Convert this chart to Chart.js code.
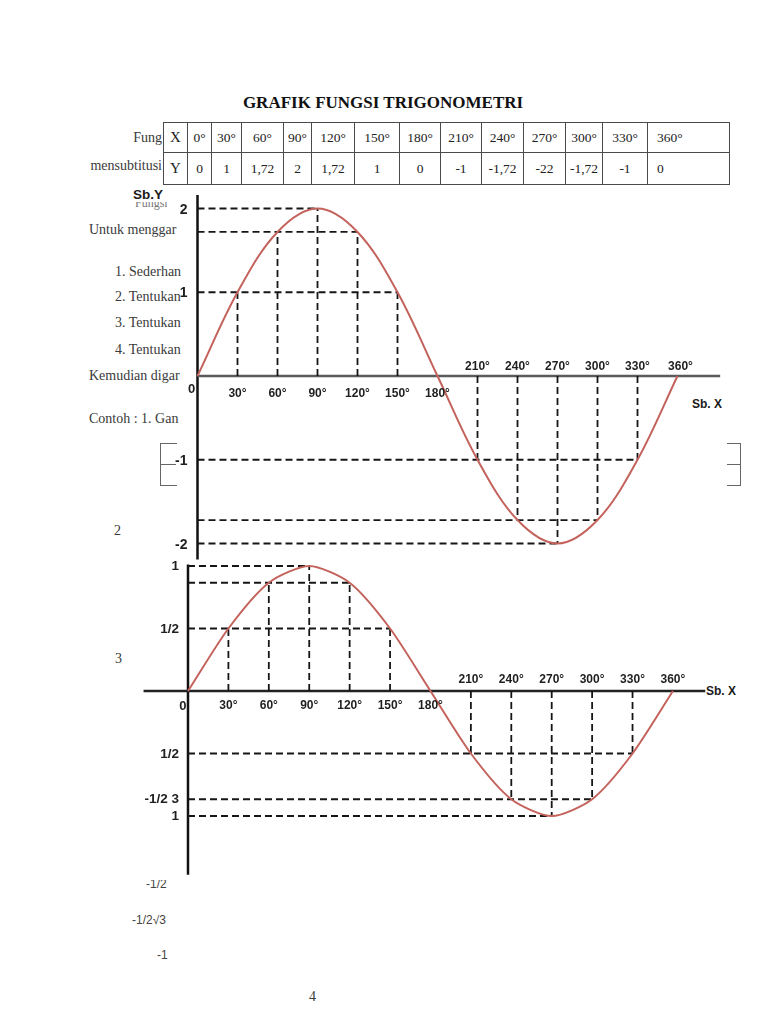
<!DOCTYPE html>
<html><head><meta charset="utf-8">
<script src="https://cdn.jsdelivr.net/npm/chart.js@4.4.1/dist/chart.umd.min.js"></script>
<style>
html,body{margin:0;padding:0;background:#fff;}
body{width:768px;height:1024px;position:relative;overflow:hidden;font-family:"Liberation Serif","Times New Roman",serif;color:#333;}
.t{position:absolute;white-space:nowrap;line-height:1;font-family:"Liberation Serif",serif;font-size:14px;color:#3a3a3a;transform:translateY(-50%);}
.s{position:absolute;white-space:nowrap;line-height:1;font-family:"Liberation Sans",Arial,sans-serif;font-size:12px;color:#444;transform:translateY(-50%);}
.b{position:absolute;white-space:nowrap;line-height:1;font-family:"Liberation Sans",Arial,sans-serif;font-weight:bold;font-size:13px;color:#1a1a1a;transform:translateY(-50%);}
.wrap{position:absolute;}
.wrap canvas{position:absolute;left:0;top:0;}
.lbl{position:absolute;white-space:nowrap;line-height:1;font-family:"Liberation Sans",Arial,sans-serif;font-weight:bold;color:#1f1f1f;}
#title{position:absolute;left:0;width:766px;top:94px;text-align:center;font-family:"Liberation Serif",serif;font-weight:bold;font-size:17px;color:#111;line-height:1;}
#tbl{position:absolute;left:163px;top:122px;border-collapse:collapse;table-layout:fixed;width:566px;font-family:"Liberation Serif",serif;font-size:13.5px;color:#222;}
#tbl td{border:1px solid #4a4a4a;text-align:center;padding:0;white-space:nowrap;}
#tbl tr.r1 td{height:29px;}
#tbl tr.r2 td{height:31px;}
#tbl td.first{font-size:15px;}
#tbl td.last{text-align:left;padding-left:9px;}
.box{position:absolute;border-color:#666;border-style:solid;border-width:0;}
</style>
</head><body>
<div id="title">GRAFIK FUNGSI TRIGONOMETRI</div>
<table id="tbl"><colgroup id="cols"></colgroup><tbody><tr class="r1" id="row1"></tr><tr class="r2" id="row2"></tr></tbody></table>

<div class="t" style="right:606px;top:138px;">Fung</div>
<div class="t" style="right:606px;top:166px;">mensubtitusi</div>
<div style="position:absolute;left:135px;top:202px;width:32px;height:8px;overflow:hidden;"><div style="position:absolute;left:0;top:-5px;font-family:'Liberation Serif',serif;font-size:12px;color:#777;line-height:1;white-space:nowrap;">Fungsi</div></div>
<div class="b" style="left:133px;top:195px;font-size:13.5px;">Sb.Y</div>
<div class="t" style="left:89px;top:230px;">Untuk menggar</div>
<div class="t" style="left:115px;top:272px;">1. Sederhan</div>
<div class="t" style="left:115px;top:297px;">2. Tentukan</div>
<div class="t" style="left:115px;top:323px;">3. Tentukan</div>
<div class="t" style="left:115px;top:350px;">4. Tentukan</div>
<div class="t" style="left:89px;top:376px;">Kemudian digar</div>
<div class="t" style="left:89px;top:419px;">Contoh : 1. Gan</div>
<div class="t" style="left:114px;top:531px;">2</div>
<div class="t" style="left:115px;top:659px;">3</div>
<div class="t" style="left:309px;top:997px;">4</div>
<div style="position:absolute;left:140px;top:880px;width:40px;height:12px;overflow:hidden;"><div style="position:absolute;left:6px;top:-2px;font-family:'Liberation Sans',sans-serif;font-size:12px;color:#444;line-height:1;white-space:nowrap;">-1/2</div></div>
<div class="s" style="left:132px;top:920px;">-1/2√3</div>
<div class="s" style="left:157px;top:955px;">-1</div>

<div class="box" style="left:160px;top:443px;width:16px;height:41px;border-left-width:1px;border-top-width:1px;border-bottom-width:1px;"></div>
<div class="box" style="left:160px;top:464px;width:16px;height:0;border-top-width:1px;"></div>
<div class="box" style="left:727px;top:443px;width:13px;height:41px;border-right-width:1px;border-top-width:1px;border-bottom-width:1px;"></div>
<div class="box" style="left:727px;top:464px;width:13px;height:0;border-top-width:1px;"></div>

<div class="b" style="left:692px;top:404px;font-size:12px;">Sb. X</div>
<div class="b" style="left:706px;top:691px;font-size:12px;">Sb. X</div>

<div class="wrap" id="w1" style="left:150px;top:190px;width:600px;height:380px;"><canvas id="c1" width="600" height="380"></canvas></div>
<div class="wrap" id="w2" style="left:130px;top:556px;width:620px;height:334px;"><canvas id="c2" width="620" height="334"></canvas></div>

<script>
// ---------- data ----------
const angles = [0,30,60,90,120,150,180,210,240,270,300,330,360];
const valuesChart1 = [0,1,1.72,2,1.72,1,0,-1,-1.72,-2,-1.72,-1,0];
const valuesChart2 = [0,0.5,0.866,1,0.866,0.5,0,-0.5,-0.866,-1,-0.866,-0.5,0];

const tableHeader = ['X','0°','30°','60°','90°','120°','150°','180°','210°','240°','270°','300°','330°','360°'];
const tableValues = ['Y','0','1','1,72','2','1,72','1','0','-1','-1,72','-22','-1,72','-1','0'];

const xTickLabels = ['30°','60°','90°','120°','150°','180°','210°','240°','270°','300°','330°','360°'];
const yTicks1 = [2,1,-1,-2];
const yTickLabels1 = ['2','1','-1','-2'];
const yTicks2 = [1,0.5,-0.5,-0.866,-1];
const yTickLabels2 = ['1','1/2','1/2','-1/2 3','1'];

// ---------- table ----------
const colWidths = [24,24,30,42,28,43,45,41,41,42,42,37,45,82];
const cg = document.getElementById('cols');
colWidths.forEach(w=>{const c=document.createElement('col');c.style.width=w+'px';cg.appendChild(c);});
function fillRow(id, arr){
  const tr=document.getElementById(id);
  arr.forEach((t,i)=>{const td=document.createElement('td');td.textContent=t;
    if(i===0) td.className='first'; if(i===arr.length-1) td.className='last'; tr.appendChild(td);});
}
fillRow('row1', tableHeader);
fillRow('row2', tableValues);

// ---------- chart helpers ----------
const curveColor = '#c4625c';
function guideDatasets(vals){
  const ds=[];
  const maxAngle={};
  angles.forEach((a,i)=>{const v=vals[i]; if(v!==0){ const k=String(v); if(maxAngle[k]===undefined||a>maxAngle[k]) maxAngle[k]=a; }});
  Object.keys(maxAngle).forEach(k=>{
    ds.push({data:[{x:0,y:Number(k)},{x:maxAngle[k],y:Number(k)}],borderColor:'#161616',borderWidth:1.8,borderDash:[7,4],pointRadius:0,tension:0,order:2});
  });
  angles.forEach((a,i)=>{const v=vals[i]; if(v!==0){
    ds.push({data:[{x:a,y:0},{x:a,y:v}],borderColor:'#161616',borderWidth:1.8,borderDash:[7,4],pointRadius:0,tension:0,order:2});
  }});
  return ds;
}
function makeChart(canvasId, vals, cfg){
  const datasets=[];
  datasets.push({data:angles.map((a,i)=>({x:a,y:vals[i]})),borderColor:curveColor,borderWidth:2,pointRadius:0,tension:cfg.tension,fill:false,order:0});
  guideDatasets(vals).forEach(d=>datasets.push(d));
  datasets.push({data:[{x:cfg.xAxis[0],y:0},{x:cfg.xAxis[1],y:0}],borderColor:cfg.xAxisColor,borderWidth:2.5,pointRadius:0,order:3});
  datasets.push({data:[{x:0,y:cfg.yAxis[0]},{x:0,y:cfg.yAxis[1]}],borderColor:'#111',borderWidth:2.5,pointRadius:0,order:3});
  return new Chart(document.getElementById(canvasId),{
    type:'line',
    data:{datasets},
    options:{responsive:false,animation:false,events:[],
      layout:{padding:0},
      plugins:{legend:{display:false},tooltip:{enabled:false},title:{display:false}},
      scales:{x:{type:'linear',min:cfg.xRange[0],max:cfg.xRange[1],display:false},
              y:{type:'linear',min:cfg.yRange[0],max:cfg.yRange[1],display:false}}}
  });
}
function addLabel(wrap, chart, xv, yv, text, o){
  const px = chart.scales.x.getPixelForValue(xv) + (o.dx||0);
  const py = chart.scales.y.getPixelForValue(yv) + (o.dy||0);
  const s=document.createElement('div'); s.className='lbl'; s.textContent=text;
  s.style.fontSize=(o.size||12)+'px';
  s.style.left=px+'px'; s.style.top=py+'px';
  s.style.transform = o.align==='right' ? 'translate(-100%,-50%)' : 'translate(-50%,-50%)';
  wrap.appendChild(s);
}

// ---------- chart 1 ----------
const ch1 = makeChart('c1', valuesChart1, {tension:0.35, xRange:[-35.625,414.375], yRange:[-2.3164,2.2209],
  xAxis:[0,392], yAxis:[2.16,-2.19], xAxisColor:'#5a5a5a'});
const w1=document.getElementById('w1');
yTicks1.forEach((v,i)=>addLabel(w1,ch1,0,v,yTickLabels1[i],{align:'right',dx:-10,size:14}));
addLabel(w1,ch1,0,0,'0',{dx:-6,dy:12,size:13});
angles.slice(1).forEach((a,i)=>{
  addLabel(w1,ch1,a,0,xTickLabels[i],{dy: a<=180 ? 17 : -10, dx: a===360?3:0, size:12});
});

// ---------- chart 2 ----------
const ch2 = makeChart('c2', valuesChart2, {tension:0.25, xRange:[-43.05,417.2], yRange:[-1.592,1.08],
  xAxis:[-33,384], yAxis:[1.012,-1.47], xAxisColor:'#222'});
const w2=document.getElementById('w2');
yTicks2.forEach((v,i)=>addLabel(w2,ch2,0,v,yTickLabels2[i],{align:'right',dx:-9,size:13.5}));
addLabel(w2,ch2,0,0,'0',{dx:-5,dy:14,size:13});
angles.slice(1).forEach((a,i)=>{
  addLabel(w2,ch2,a,0,xTickLabels[i],{dy: a<=180 ? 14 : -12, size:12});
});
</script>
</body></html>
